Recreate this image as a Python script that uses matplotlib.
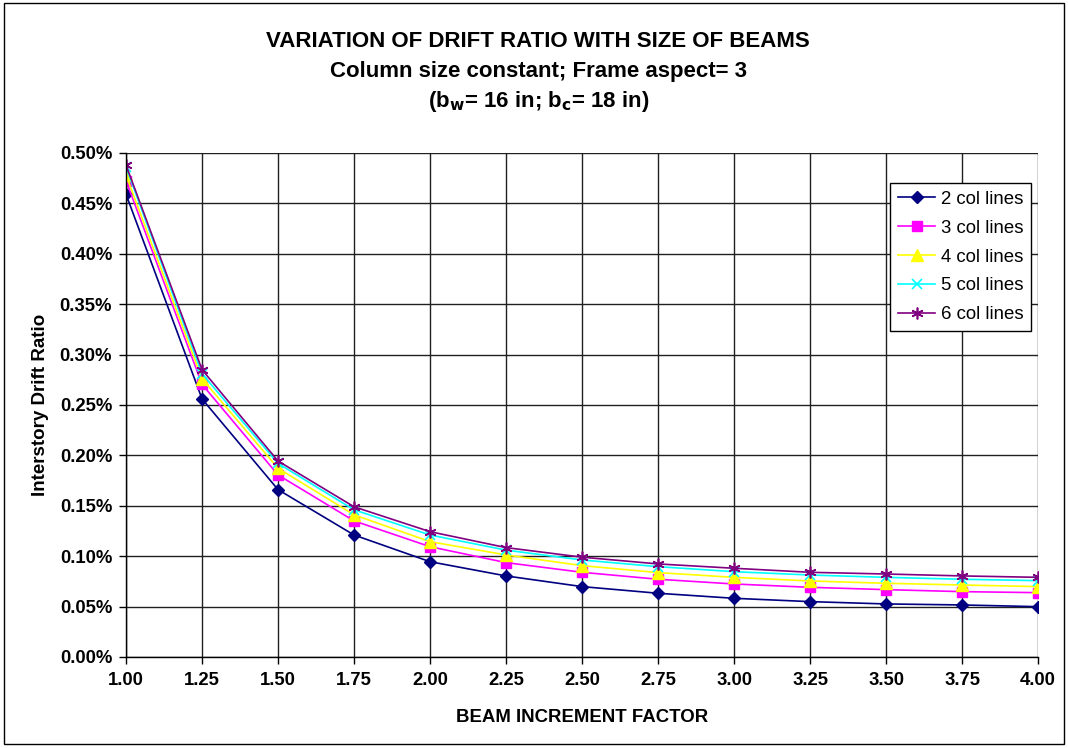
import matplotlib
matplotlib.use('Agg')
import matplotlib.pyplot as plt
from matplotlib.ticker import FuncFormatter, MultipleLocator
from matplotlib.patches import Rectangle

plt.rcParams['font.family'] = ['Liberation Sans', 'DejaVu Sans']

# beam increment factor
factor = [1.00, 1.25, 1.50, 1.75, 2.00, 2.25, 2.50, 2.75, 3.00, 3.25, 3.50, 3.75, 4.00]

# interstory drift ratio in percent
col2 = [0.459, 0.256, 0.166, 0.121, 0.0945, 0.0804, 0.0698, 0.0632, 0.0582, 0.0549, 0.0526, 0.0516, 0.0499]
col3 = [0.4725, 0.2705, 0.1806, 0.135, 0.1094, 0.0936, 0.084, 0.0771, 0.0724, 0.0691, 0.0668, 0.0648, 0.0638]
col4 = [0.478, 0.276, 0.1872, 0.141, 0.1144, 0.1012, 0.0906, 0.0837, 0.079, 0.0754, 0.0731, 0.0714, 0.0698]
col5 = [0.486, 0.281, 0.192, 0.146, 0.121, 0.106, 0.0962, 0.0896, 0.0846, 0.0813, 0.079, 0.0771, 0.0757]
col6 = [0.488, 0.285, 0.1944, 0.149, 0.1243, 0.1085, 0.099, 0.0923, 0.088, 0.084, 0.0823, 0.0804, 0.079]

labels = ['2 col lines', '3 col lines', '4 col lines', '5 col lines', '6 col lines']

fig = plt.figure(figsize=(10.68, 7.48), dpi=100)
ax = fig.add_axes([0.118, 0.1217, 0.854, 0.6738])

# series styles (excel-ish)
ax.plot(factor, col2, color='#000080', marker='D', markersize=6.5, lw=1.2, label=labels[0])
ax.plot(factor, col3, color='#FF00FF', marker='s', markersize=7, lw=1.2, label=labels[1])
ax.plot(factor, col4, color='#FFFF00', marker='^', markersize=8.5, lw=1.2, label=labels[2])
ax.plot(factor, col5, color='#00FFFF', marker='x', markersize=7.5, mew=1.2, lw=1.2, label=labels[3])
ax.plot(factor, col6, color='#800080', marker=(6, 2, 0), markersize=8.5, mew=1.2, lw=1.2, label=labels[4])

ax.set_xlim(1.0, 4.0)
ax.set_ylim(0, 0.5)
ax.xaxis.set_major_locator(MultipleLocator(0.25))
ax.yaxis.set_major_locator(MultipleLocator(0.05))
ax.xaxis.set_major_formatter(FuncFormatter(lambda v, p: '%.2f' % v))
ax.yaxis.set_major_formatter(FuncFormatter(lambda v, p: '%.2f%%' % v))
ax.grid(True, color='#202020', lw=1.0)
ax.set_axisbelow(True)
for s in ['top', 'right']:
    ax.spines[s].set_visible(False)
ax.spines['left'].set_linewidth(1.0)
ax.spines['bottom'].set_linewidth(1.0)
ax.tick_params(direction='out', length=5, width=1, labelsize=13.3)
ax.tick_params(axis='y', pad=5)
ax.tick_params(axis='x', pad=6)
for t in ax.get_xticklabels() + ax.get_yticklabels():
    t.set_fontweight('bold')

ax.set_xlabel('BEAM INCREMENT FACTOR', fontsize=13.4, fontweight='bold', labelpad=14)
ax.set_ylabel('Interstory Drift Ratio', fontsize=13.5, fontweight='bold', labelpad=8)

fig.text(0.504, 0.944, 'VARIATION OF DRIFT RATIO WITH SIZE OF BEAMS', ha='center', va='center',
         fontsize=16, fontweight='bold')
fig.text(0.504, 0.904, 'Column size constant; Frame aspect= 3', ha='center', va='center',
         fontsize=16, fontweight='bold')
fig.text(0.504, 0.864, r'(b$_\mathbf{w}$= 16 in; b$_\mathbf{c}$= 18 in)', ha='center', va='center',
         fontsize=16, fontweight='bold')

leg = ax.legend(loc='upper right', bbox_to_anchor=(0.992, 0.94), fontsize=13.4, frameon=True,
                fancybox=False, edgecolor='black', framealpha=1, handlelength=2.0,
                borderpad=0.4, labelspacing=0.64, handletextpad=0.3, borderaxespad=0)
leg.get_frame().set_linewidth(1.0)

# outer chart border
fig.patches.append(Rectangle((0.004, 0.006), 0.992, 0.99, transform=fig.transFigure,
                             fill=False, edgecolor='black', lw=1.0))

fig.savefig('out.png', dpi=100)
